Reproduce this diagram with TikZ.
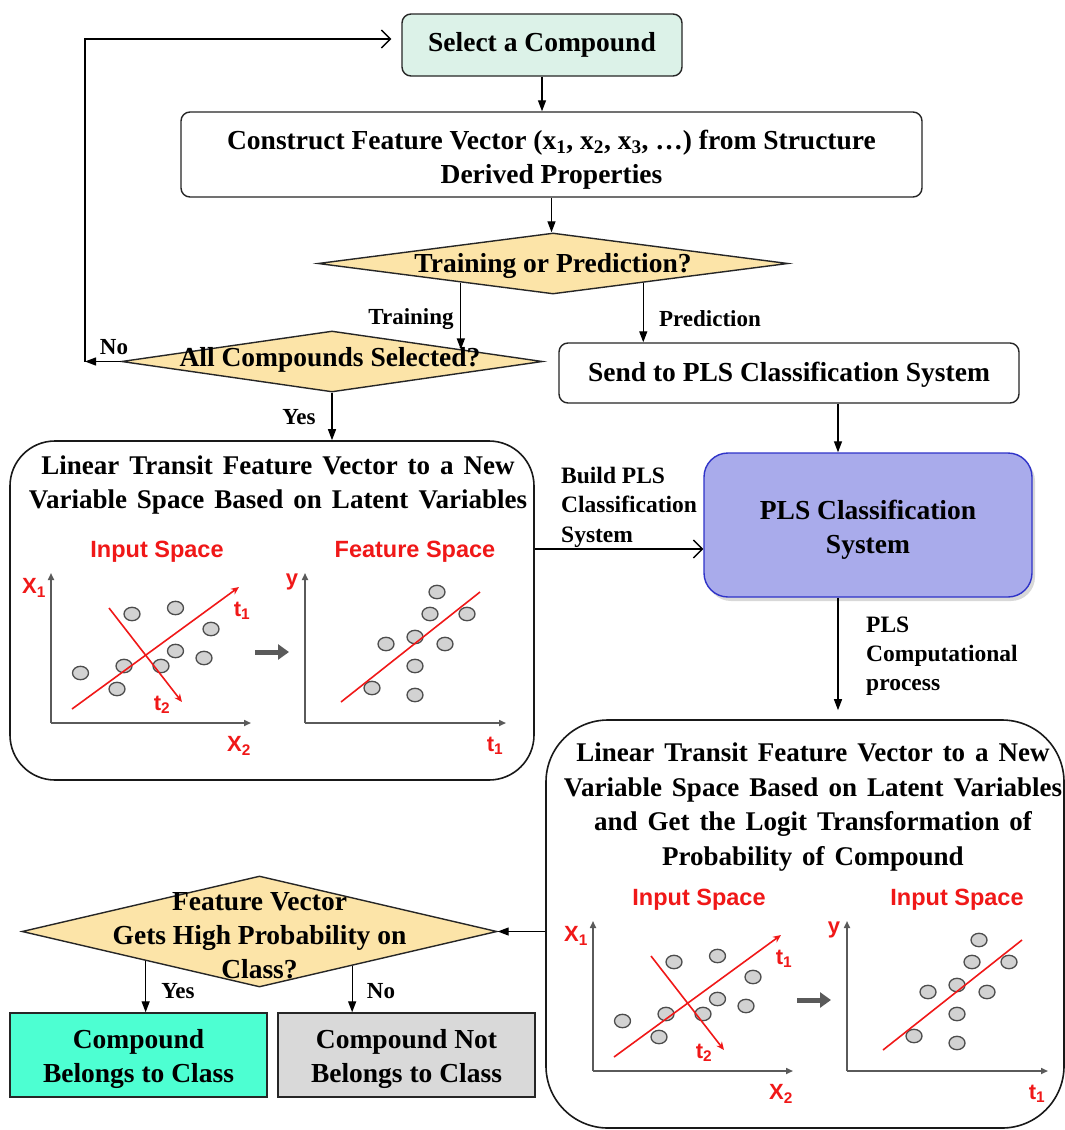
\documentclass[tikz,border=0pt]{standalone}
\usepackage{fontspec}
\setmainfont{Liberation Serif}
\newfontfamily\arialf{Liberation Sans}
\usetikzlibrary{arrows.meta,shapes.geometric,shadows,calc}

\definecolor{mintc}{HTML}{DCF2E8}
\definecolor{diay}{HTML}{FCE4A8}
\definecolor{plsfill}{HTML}{A9ABEB}
\definecolor{plsdraw}{HTML}{2F33C8}
\definecolor{yesfill}{HTML}{4DFFD2}
\definecolor{nofill}{HTML}{D9D9D9}
\definecolor{redc}{HTML}{F01818}
\definecolor{axisc}{HTML}{5A5A5A}
\definecolor{dotfill}{HTML}{D2D2D2}

% wider interword spacing for the box titles
\newcommand\widewords{\spaceskip=10pt plus 2pt\relax}

\tikzset{
  flowtxt/.style={font=\fontsize{27.5}{34}\selectfont\bfseries, align=center},
  widetxt/.style={font={\fontsize{27}{34.5}\selectfont\bfseries\widewords}, align=center, inner sep=0pt},
  lbl/.style={font=\fontsize{23}{29.5}\selectfont\bfseries, align=left, inner sep=0pt},
  box/.style={draw=black!85, line width=1.4pt, rounded corners=9pt, inner sep=0pt, flowtxt},
  bigbox/.style={draw=black!90, line width=1.6pt, inner sep=0pt},
  dia/.style={shape=diamond, draw=black!85, line width=1.4pt, fill=diay, inner sep=0pt},
  flow/.style={draw=black, line width=1.3pt, -{Triangle[length=11pt,width=8pt]}},
  openflow/.style={draw=black, line width=1.3pt, -{Straight Barb[length=9pt,width=18pt,line width=1.3pt]}},
  redlab/.style={font={\arialf\bfseries\fontsize{22}{26}\selectfont}, text=redc, inner sep=0pt},
  redtitle/.style={font={\arialf\bfseries\fontsize{23.5}{28}\selectfont}, text=redc, inner sep=0pt},
  axisl/.style={draw=axisc, line width=1.6pt, -{Triangle[length=7pt,width=6pt]}},
  redl/.style={draw=redc, line width=1.6pt},
  dot/.style={draw=black!70, fill=dotfill, line width=1.3pt},
  pics/spaces/.style={code={
    % input space plot
    \draw[axisl] (0,0) -- (0,-150);
    \draw[axisl] (0,0) -- (200,0);
    \node[redlab] (-xa) at (-17,-135) {X\textsubscript{1}};
    \node[redlab] (-xb) at (188,23) {X\textsubscript{2}};
    \node[redtitle] (-ti) at (106,-171) {Input Space};
    \foreach \px/\py in {29.5/-50, 81/-109, 124.5/-115, 160/-94, 124.5/-72, 153/-65, 73/-57, 110/-57, 66/-34}
      \draw[dot] (\px,\py) ellipse [x radius=8pt, y radius=6.7pt];
    \draw[redl, -{Stealth[length=8pt,width=7pt]}] (21,-14) -- (188,-136);
    \draw[redl, -{Stealth[length=8pt,width=7pt]}] (58,-115) -- (131,-21);
    \node[redlab] (-ta) at (191,-112) {t\textsubscript{1}};
    \node[redlab] (-tb) at (111,-18) {t\textsubscript{2}};
    % transfer arrow
    \draw[draw=axisc, line width=5pt, -{Triangle[length=11pt,width=15pt]}] (204,-71) -- (238,-71);
    % projected space plot
    \draw[axisl] (254,0) -- (254,-150);
    \draw[axisl] (254,0) -- (455,0);
    \node[redlab] (-ya) at (241,-141) {y};
    \node[redlab] (-yb) at (444,23) {t\textsubscript{1}};
    \node[redtitle] (-to) at (364,-171) {#1};
    \foreach \px/\py in {386/-131, 379/-109, 416/-109, 335/-79, 364/-86, 394/-79, 364/-57, 321/-35, 364/-28}
      \draw[dot] (\px,\py) ellipse [x radius=8pt, y radius=6.7pt];
    \draw[redl] (290,-21) -- (429,-131);
  }}
}

\begin{document}
\begin{tikzpicture}[x=1pt,y=-1pt]
\useasboundingbox[fill=white] (0,0) rectangle (1065,1130);

% ---------- top of the flow ----------
\node[box, fill=mintc, minimum width=280pt, minimum height=62pt] (sel) at (542,45) {Select a Compound};
\node[box, fill=white, minimum width=741pt, minimum height=85pt] (con) at (551.5,154.5) {};
\node[flowtxt, inner sep=0pt] (context) at (551.5,160)
  {Construct Feature Vector (x\textsubscript{1}, x\textsubscript{2}, x\textsubscript{3}, \ldots) from Structure\\Derived Properties};
\node[dia, minimum width=470pt, minimum height=61pt] (tp) at (553,263.5) {};
\node[flowtxt, inner sep=0pt] (tptext) at (553,266) {Training or Prediction?};
\node[dia, minimum width=421pt, minimum height=61pt] (ac) at (332,361.5) {};
\node[flowtxt, inner sep=0pt] (actext) at (330,360) {All Compounds Selected?};
\node[box, fill=white, minimum width=460pt, minimum height=60pt] (send) at (789,373) {};
\node[flowtxt, inner sep=0pt] (sendtext) at (789,375) {Send to PLS Classification System};

\draw[flow] (sel.south) -- (sel.south |- con.north);
\draw[flow] (con.south) -- (con.south |- tp.north);

\coordinate (trs) at ($(tp.south)!0.391!(tp.west)$);
\coordinate (tre) at ($(ac.north)!0.613!(ac.east)$);
\draw[flow] (trs) -- (trs |- tre);
\node[lbl] (trlab) at (411,319) {Training};

\coordinate (prs) at ($(tp.south)!0.383!(tp.east)$);
\draw[flow] (prs) -- (prs |- send.north);
\node[lbl] (prlab) at (710,319) {Prediction};

% return loop
\coordinate (lpb) at (85,361.5);
\coordinate (lpt) at (85,39);
\draw[flow] (ac.west) -- (lpb);
\node[lbl] (nolab) at (114,347) {No};
\draw[openflow, shorten >=10pt] (lpb) -- (lpt) -- (lpt -| sel.west);

% ---------- training branch ----------
\node[bigbox, rounded corners=45pt, minimum width=524pt, minimum height=339pt] (lt) at (272,610.5) {};
\draw[flow] (ac.south) -- (ac.south |- lt.north);
\node[lbl] (yeslab) at (299,417) {Yes};
\node[widetxt] (lttitle) at (278,485)
  {Linear Transit Feature Vector to a New\\Variable Space Based on Latent Variables};
\pic (lsp) at (51,723) {spaces=Feature Space};

% ---------- classifier ----------
\node[box, draw=plsdraw, fill=plsfill, rounded corners=24pt, minimum width=328pt, minimum height=144pt,
      drop shadow={shadow xshift=3pt, shadow yshift=-4pt, opacity=0.3}] (pls) at (868,525) {};
\node[flowtxt, inner sep=0pt] (plstext) at (868,530) {PLS Classification\\System};
\coordinate (axa) at (838,0);
\draw[flow] (send.south -| axa) -- (pls.north -| axa);
\coordinate (bp) at (0,549);
\draw[openflow] (lt.east |- bp) -- (pls.west |- bp);
\node[lbl, anchor=west, font=\fontsize{23.5}{29.5}\selectfont\bfseries] (bplab) at (561,507) {Build PLS\\Classification\\System};

\node[bigbox, rounded corners=62pt, minimum width=518pt, minimum height=408pt] (rt) at (805,924) {};
\draw[flow, shorten >=9pt] (pls.south -| axa) -- (rt.north -| axa);
\node[lbl, anchor=west, font=\fontsize{23.5}{29}\selectfont\bfseries] (pclab) at (866,656) {PLS\\Computational\\process};
\node[widetxt] (rttitle) at (813,807)
  {Linear Transit Feature Vector to a New\\Variable Space Based on Latent Variables\\and Get the Logit Transformation of\\Probability of Compound};
\pic (rsp) at (593,1071) {spaces=Input Space};

% ---------- decision ----------
\node[dia, minimum width=475pt, minimum height=111pt] (fv) at (259.5,931.5) {};
\node[flowtxt, inner sep=0pt] (fvtext) at (259.5,936) {Feature Vector\\Gets High Probability on\\Class?};
\draw[flow] (rt.west |- fv.east) -- (fv.east);

\node[box, rounded corners=0pt, fill=yesfill, minimum width=257pt, minimum height=84pt] (cb) at (138.5,1055) {};
\node[flowtxt, inner sep=0pt] (cbtext) at (138.5,1059) {Compound\\Belongs to Class};
\node[box, rounded corners=0pt, fill=nofill, minimum width=257pt, minimum height=84pt] (nb) at (406.5,1055) {};
\node[flowtxt, inner sep=0pt] (nbtext) at (406.5,1059) {Compound Not\\Belongs to Class};

\coordinate (ys) at ($(fv.south)!0.478!(fv.west)$);
\draw[flow] (ys) -- (ys |- cb.north);
\node[lbl] (ylab) at (178,991) {Yes};
\coordinate (ns) at ($(fv.south)!0.389!(fv.east)$);
\draw[flow] (ns) -- (ns |- nb.north);
\node[lbl] (nlab) at (381,991) {No};
\end{tikzpicture}
\end{document}
